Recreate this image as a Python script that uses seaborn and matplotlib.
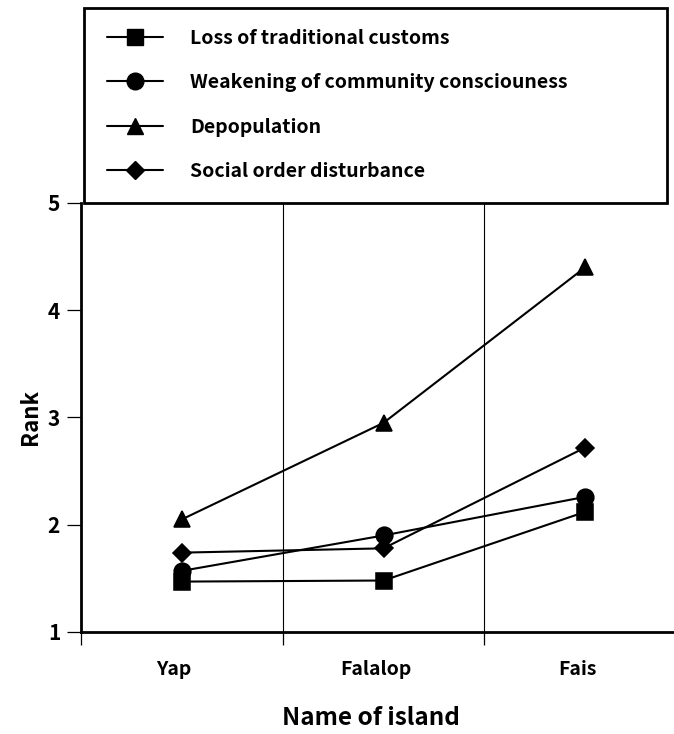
import matplotlib
matplotlib.use('Agg')
import matplotlib.pyplot as plt
import seaborn as sns
import pandas as pd
from matplotlib.patches import Rectangle
from matplotlib.lines import Line2D
import matplotlib.transforms as mtransforms

islands = ['Yap', 'Falalop', 'Fais']
series = ['Loss of traditional customs',
          'Weakening of community consciouness',
          'Depopulation',
          'Social order disturbance']
loss_customs = [1.47, 1.48, 2.12]
weak_community = [1.57, 1.90, 2.26]
depopulation = [2.05, 2.95, 4.40]
social_order = [1.74, 1.78, 2.72]
y_ticks = [1, 2, 3, 4, 5]

markers = ['s', 'o', '^', 'D']
msizes = [12, 12, 12, 9.5]

sns.set_theme(style='white')
FONT = ['Noto Sans CJK JP', 'DejaVu Sans']
plt.rcParams['font.family'] = FONT
plt.rcParams['text.color'] = 'black'
plt.rcParams['axes.labelcolor'] = 'black'
plt.rcParams['xtick.color'] = 'black'
plt.rcParams['ytick.color'] = 'black'

rows = []
for name, vals in zip(series, [loss_customs, weak_community, depopulation, social_order]):
    for isl, v in zip(islands, vals):
        rows.append({'Island': isl, 'Rank': v, 'Issue': name})
df = pd.DataFrame(rows)

W, H = 674, 734
fig = plt.figure(figsize=(W / 100, H / 100), dpi=100)
ax_left, ax_right, ax_top, ax_bottom = 81, 686, 203, 632
ax = fig.add_axes([ax_left / W, 1 - ax_bottom / H, (ax_right - ax_left) / W, (ax_bottom - ax_top) / H])

sns.pointplot(data=df, x='Island', y='Rank', hue='Issue', order=islands, hue_order=series,
              palette={s: 'black' for s in series}, markers=markers, linestyles='-',
              errorbar=None, ax=ax, legend=False, linewidth=1.5)

lines = [l for l in ax.lines if len(l.get_xdata()) == 3]
for l, ms in zip(lines, msizes):
    l.set_markersize(ms)
    l.set_zorder(3)

ax.set_xlim(-0.5, 2.5)
ax.set_ylim(1, 5)
ax.set_xticks([-0.5, 0.5, 1.5, 2.5])
ax.set_xticklabels([])
ax.set_xticks([0, 1, 2], minor=True)
ax.set_xticklabels(islands, minor=True, fontsize=14, fontweight='bold')
ax.tick_params(axis='x', which='major', direction='out', length=9.5, width=0.9, color='black', bottom=True)
ax.tick_params(axis='x', which='minor', length=0, pad=20, bottom=True)
offset = mtransforms.ScaledTranslation(-8 / 100, 0, fig.dpi_scale_trans)
for lab in ax.xaxis.get_minorticklabels():
    lab.set_transform(lab.get_transform() + offset)

ax.set_yticks(y_ticks)
ax.set_yticklabels([str(t) for t in y_ticks], fontsize=15, fontweight='bold')
ax.tick_params(axis='y', direction='out', length=10, width=0.9, color='black', pad=5, left=True)

for xv in [0.5, 1.5]:
    ax.axvline(xv, color='black', lw=0.8, zorder=1)

for side in ['left', 'bottom']:
    ax.spines[side].set_color('black')
    ax.spines[side].set_linewidth(2)
for side in ['top', 'right']:
    ax.spines[side].set_visible(False)

ax.set_xlabel('Name of island', fontsize=17.5, fontweight='bold', color='black')
ax.xaxis.set_label_coords((371 - ax_left) / (ax_right - ax_left), (ax_bottom - 718) / (ax_bottom - ax_top))
ax.xaxis.label.set_verticalalignment('center')
ax.set_ylabel('Rank', fontsize=16, fontweight='bold', color='black')
ax.yaxis.set_label_coords((30 - ax_left) / (ax_right - ax_left), 0.5)
ax.yaxis.label.set_verticalalignment('center')

rect = Rectangle((84 / W, 1 - ax_top / H), (667 - 84) / W, (ax_top - 8) / H,
                 transform=fig.transFigure, fill=False, edgecolor='black', linewidth=2, zorder=5)
fig.patches.append(rect)

handles = [Line2D([], [], color='black', marker=m, markersize=ms, lw=1.5)
           for m, ms in zip(markers, msizes)]
fs = 14
fs_px = fs * 100 / 72
leg = fig.legend(handles, series, loc='upper left',
                 bbox_to_anchor=(107 / W, 1 - 29 / H), bbox_transform=fig.transFigure,
                 frameon=False, borderpad=0, borderaxespad=0,
                 handlelength=56 / fs_px, handletextpad=27 / fs_px,
                 labelspacing=1.3, prop={'size': fs, 'weight': 'bold', 'family': FONT})
for t in leg.get_texts():
    t.set_color('black')

fig.savefig('out.png', dpi=100, facecolor='white')
